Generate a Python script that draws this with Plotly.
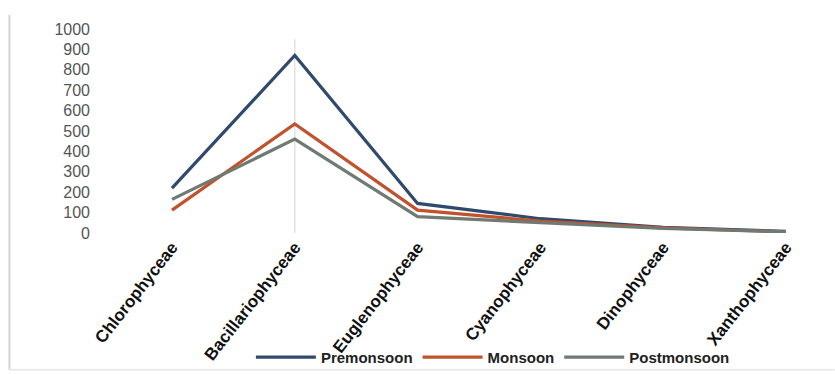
import plotly.graph_objects as go

categories = ["Chlorophyceae", "Bacillariophyceae", "Euglenophyceae",
              "Cyanophyceae", "Dinophyceae", "Xanthophyceae"]
premonsoon = [220, 870, 145, 70, 28, 8]
monsoon = [112, 535, 112, 58, 25, 5]
postmonsoon = [165, 460, 80, 52, 22, 6]
y_ticks = [0, 100, 200, 300, 400, 500, 600, 700, 800, 900, 1000]

fig = go.Figure()
fig.add_trace(go.Scatter(x=categories, y=premonsoon, name="Premonsoon", mode="lines",
                         line=dict(color="#2f4a6a", width=3.2)))
fig.add_trace(go.Scatter(x=categories, y=monsoon, name="Monsoon", mode="lines",
                         line=dict(color="#c2522e", width=3.2)))
fig.add_trace(go.Scatter(x=categories, y=postmonsoon, name="Postmonsoon", mode="lines",
                         line=dict(color="#6f7a72", width=3.2)))

# faint vertical line at Bacillariophyceae
fig.add_shape(type="line", xref="x", yref="y", x0=categories[1], x1=categories[1],
              y0=0, y1=950, line=dict(color="#e3e3e3", width=1.5), layer="below")
# chart frame line at left and bottom
fig.add_shape(type="line", xref="paper", yref="paper", x0=-0.118, x1=-0.118,
              y0=1.07, y1=-0.67, line=dict(color="#d4d4d4", width=2))
fig.add_shape(type="line", xref="paper", yref="paper", x0=-0.118, x1=1.02,
              y0=-0.67, y1=-0.67, line=dict(color="#e6e6e6", width=1.5))

fig.update_layout(
    width=835, height=374,
    margin=dict(l=95, r=15, t=29, b=141, autoexpand=False),
    paper_bgcolor="white", plot_bgcolor="white",
    font=dict(family="Liberation Sans, Arial, sans-serif", color="#333333"),
    showlegend=True,
    legend=dict(orientation="h", x=0.215, xanchor="left", y=-0.61, yanchor="middle",
                font=dict(size=15, color="#222222", family="Liberation Sans, Arial, sans-serif",
                          weight="bold"),
                itemwidth=60, tracegroupgap=0, bgcolor="rgba(0,0,0,0)"),
    xaxis=dict(type="category", range=[-0.627, 5.277], showgrid=False, zeroline=False,
               showline=False, ticks="", tickangle=-52, automargin=False,
               tickfont=dict(size=17, color="#111111", weight="bold")),
    yaxis=dict(range=[0, 1000], tickvals=y_ticks, showgrid=False, zeroline=False,
               showline=False, ticks="", ticklabelstandoff=4, automargin=False,
               tickfont=dict(size=16, color="#555555")),
)

fig.write_html("out.html")
